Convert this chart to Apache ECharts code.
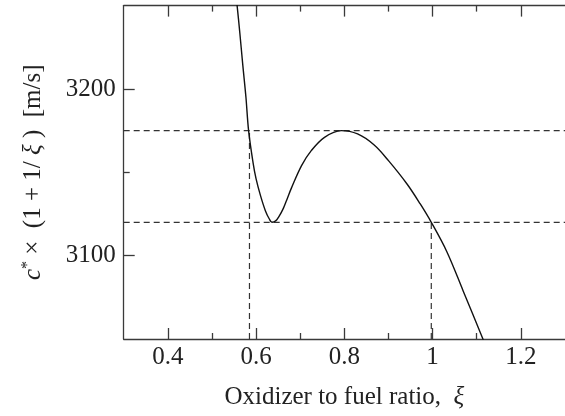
<!DOCTYPE html>
<html>
<head>
<meta charset="utf-8">
<script src="https://cdn.jsdelivr.net/npm/echarts@6/dist/echarts.min.js"></script>
<style>html,body{margin:0;padding:0;background:#fff}#c{width:565px;height:416px}</style>
</head>
<body>
<div id="c"></div>
<script>
const curveX = [0.552, 0.557, 0.563, 0.570, 0.577, 0.583, 0.593, 0.600, 0.610, 0.621, 0.630, 0.636, 0.645, 0.652, 0.662, 0.671, 0.680, 0.703, 0.725, 0.755, 0.793, 0.830, 0.867, 0.900, 0.942, 0.972, 0.997, 1.032, 1.069, 1.114, 1.120];
const curveY = [3262, 3250, 3234, 3214, 3195, 3175, 3156, 3146, 3136, 3127, 3122, 3120, 3121, 3123.5, 3128.5, 3134.5, 3140.5, 3154, 3163, 3171, 3175, 3173, 3166.5, 3157, 3143, 3131, 3120, 3102.5, 3079, 3050, 3046];
const levelY = [3175, 3120];
const crossX = [0.585, 0.997];
const xMajorTicks = [0.4, 0.6, 0.8, 1.0, 1.2];
const xMinorTicks = [0.5, 0.7, 0.9, 1.1];
const yMajorTicks = [3100, 3200];
const yMinorTicks = [3150];
const xRange = [0.3, 1.3];
const yRange = [3050, 3250];

const FONT = 'Liberation Serif';
const FS = 25;
const AX = '#3a3a3a';
const chart = echarts.init(document.getElementById('c'), null, {renderer: 'canvas'});

function xAx(pos, ticks, len, showLine, labels, name) {
  return {
    type: 'value', position: pos, min: xRange[0], max: xRange[1], interval: 0.1,
    offset: 0,
    axisLine: {show: showLine, onZero: false, lineStyle: {color: AX, width: 1.3}},
    axisTick: {show: true, inside: true, length: len, customValues: ticks, lineStyle: {color: AX, width: 1.3}},
    axisLabel: labels ? {show: true, customValues: xMajorTicks, margin: 6, fontFamily: FONT, fontSize: FS, color: '#222', formatter: v => String(+(+v).toFixed(2))} : {show: false},
    splitLine: {show: false},
    name: name || '', nameLocation: 'middle', nameGap: 46,
    nameTextStyle: {fontFamily: FONT, fontSize: FS, color: '#222', rich: {i: {fontFamily: FONT, fontStyle: 'italic', fontSize: FS, color: '#222'}}}
  };
}
function yAx(ticks, len, showLine, labels, name) {
  return {
    type: 'value', position: 'left', min: yRange[0], max: yRange[1], interval: 50,
    offset: 0,
    axisLine: {show: showLine, onZero: false, lineStyle: {color: AX, width: 1.3}},
    axisTick: {show: true, inside: true, length: len, customValues: ticks, lineStyle: {color: AX, width: 1.3}},
    axisLabel: labels ? {show: true, customValues: yMajorTicks, margin: 8, fontFamily: FONT, fontSize: FS, color: '#222', formatter: v => String(v)} : {show: false},
    splitLine: {show: false},
    name: name || '', nameLocation: 'middle', nameGap: 76, nameRotate: 90,
    nameTextStyle: {fontFamily: FONT, fontSize: FS, color: '#222', rich: {
      i: {fontFamily: FONT, fontStyle: 'italic', fontSize: FS, color: '#222'},
      s: {fontFamily: FONT, fontSize: 16, color: '#222', verticalAlign: 'top', padding: [0, 0, 12, 0]}
    }}
  };
}

const dash = {type: [6, 4], color: '#333', width: 1.2};
const series = [];
levelY.forEach(v => series.push({type: 'line', xAxisIndex: 0, yAxisIndex: 0, data: [[xRange[0], v], [xRange[1], v]], symbol: 'none', lineStyle: dash, silent: true, z: 1}));
crossX.forEach((x, i) => series.push({type: 'line', xAxisIndex: 0, yAxisIndex: 0, data: [[x, yRange[0]], [x, levelY[i]]], symbol: 'none', lineStyle: dash, silent: true, z: 1}));
series.push({type: 'line', xAxisIndex: 0, yAxisIndex: 0, data: curveX.map((x, i) => [x, curveY[i]]), smooth: 0.35, symbol: 'none', clip: true, lineStyle: {color: '#111', width: 1.4}, z: 3});

chart.setOption({
  animation: false,
  backgroundColor: '#fff',
  grid: {left: 123.7, right: -4.6, top: 5.6, bottom: 77, containLabel: false},
  xAxis: [
    xAx('bottom', xMajorTicks, 11, true, true, 'Oxidizer to fuel ratio,  {i|ξ}'),
    xAx('bottom', xMinorTicks, 6, false, false),
    xAx('top', xMajorTicks, 11, true, false),
    xAx('top', xMinorTicks, 6, false, false)
  ],
  yAxis: [
    yAx(yMajorTicks, 11, true, true, '{i|c}{s|*} ×  (1 + 1/ {i|ξ} )  [m/s]'),
    yAx(yMinorTicks, 6, false, false)
  ],
  series: series
});
</script>
</body>
</html>
